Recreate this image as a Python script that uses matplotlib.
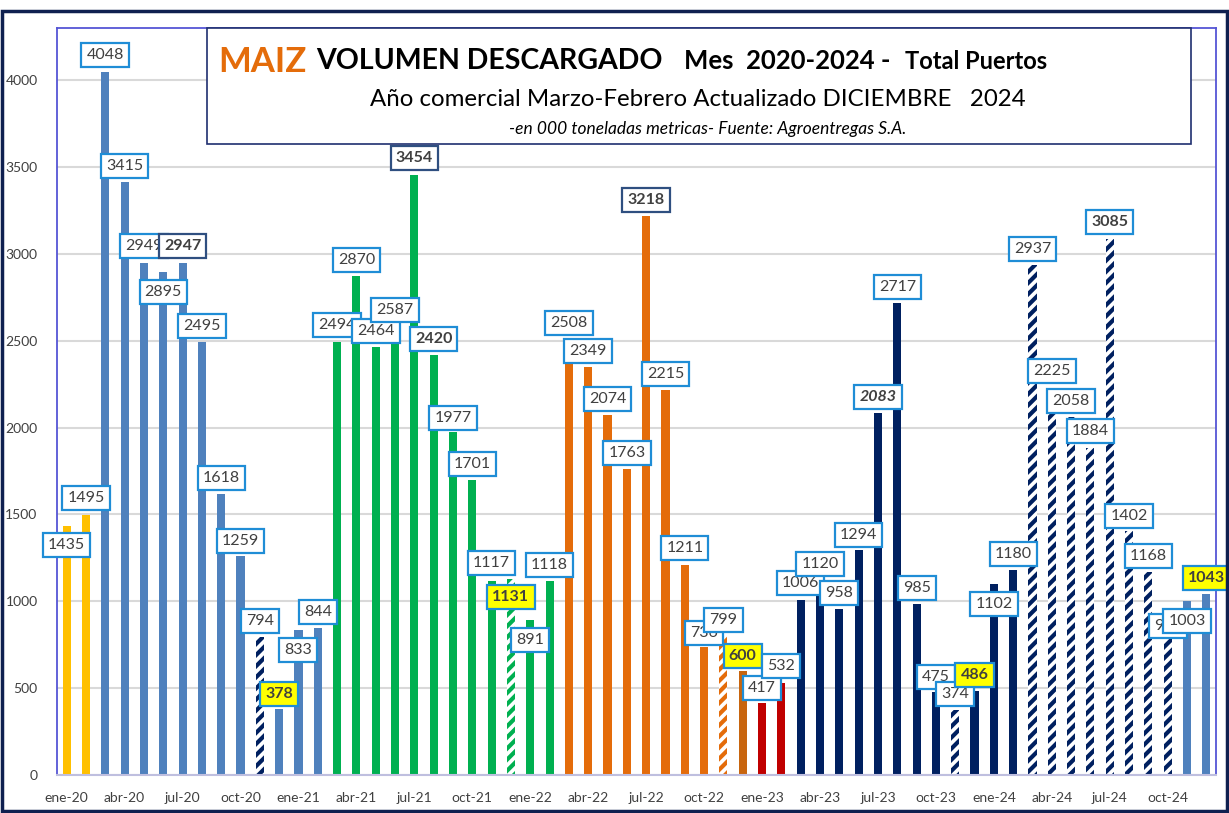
import matplotlib
matplotlib.use("Agg")
import matplotlib.pyplot as plt
from matplotlib.patches import Rectangle
import numpy as np

plt.rcParams['font.family'] = ['Lato', 'DejaVu Sans']
plt.rcParams['hatch.linewidth'] = 3.0

# ---------------- data ----------------
month_names = ["ene", "feb", "mar", "abr", "may", "jun", "jul", "ago", "sep", "oct", "nov", "dic"]
years = ["20", "21", "22", "23", "24"]
months = [f"{m}-{y}" for y in years for m in month_names]

values = [1435, 1495, 4048, 3415, 2949, 2895, 2947, 2495, 1618, 1259, 794, 378,
          833, 844, 2494, 2870, 2464, 2587, 3454, 2420, 1977, 1701, 1117, 1131,
          891, 1118, 2508, 2349, 2074, 1763, 3218, 2215, 1211, 736, 799, 600,
          417, 532, 1006, 1120, 958, 1294, 2083, 2717, 985, 475, 374, 486,
          1102, 1180, 2937, 2225, 2058, 1884, 3085, 1402, 1168, 790, 1003, 1043]

label_texts = [str(v) for v in values]
label_texts[57] = "935"

# ---------------- styles ----------------
YEL = "#FFC000"; BLU = "#4F81BD"; GRN = "#00B050"; ORG = "#E46C0A"
DOR = "#C8650E"; RED = "#C00000"; NAV = "#002060"
bar_colors = ([YEL] * 2 + [BLU] * 12 + [GRN] * 12 + [ORG] * 9 + [DOR] + [RED] * 2
              + [NAV] * 20 + [BLU] * 2)
hatched = {10, 23, 34, 46, 50, 51, 52, 53, 54, 55, 56, 57}
hatch_colors = {10: NAV, 23: GRN, 34: ORG}

# label y positions (data units)
label_y = [1324, 1594, 4144, 3505, 3045, 2780, 3045, 2584, 1709, 1347, 886, 466,
           719, 938, 2590, 2964, 2555, 2676, 3551, 2509, 2055, 1790, 1220, 1024,
           777, 1209, 2601, 2440, 2164, 1853, 3309, 2308, 1306, 817, 892, 685,
           501, 627, 1105, 1214, 1047, 1381, 2176, 2809, 1076, 564, 466, 576,
           984, 1272, 3027, 2325, 2153, 1980, 3183, 1491, 1260, 858, 886, 1134]
bold_idx = {6, 11, 18, 19, 23, 30, 35, 42, 47, 54, 59}
yellow_idx = {11, 23, 35, 47, 59}
dark_border_idx = {6, 18, 30}
italic_idx = {42}

W, H = 1229, 813
fig = plt.figure(figsize=(W / 100, H / 100), dpi=100)
fig.patch.set_facecolor("white")

def px(x, y):
    return x / W, 1 - y / H

ax = fig.add_axes([57 / W, 1 - 775 / H, (1216 - 57) / W, (775 - 28) / H])
x = np.arange(len(values))
for i, v in enumerate(values):
    if i in hatched:
        c = hatch_colors.get(i, NAV)
        ax.bar(i, v, width=0.42, facecolor="white", edgecolor=c, linewidth=0,
               hatch="///", zorder=2)
    else:
        ax.bar(i, v, width=0.42, color=bar_colors[i], linewidth=0, zorder=2)

ax.set_xlim(-0.5, len(values) - 0.5)
ax.set_ylim(0, 4300)
ax.set_yticks(np.arange(0, 4001, 500))
ax.set_yticklabels([str(t) for t in range(0, 4001, 500)], fontsize=10, color="#404040")
ax.set_xticks(x[::3])
ax.set_xticklabels(months[::3], fontsize=10, color="#404040")
ax.tick_params(axis="x", length=0, pad=12)
ax.tick_params(axis="y", length=0, pad=14)
ax.yaxis.grid(True, color="#D9D9D9", linewidth=1.5, zorder=0)
ax.set_axisbelow(True)
for s in ["left", "right", "top"]:
    ax.spines[s].set_color("#5555D5")
    ax.spines[s].set_linewidth(1.3)
ax.spines["bottom"].set_color("#BFBFDF")
ax.spines["bottom"].set_linewidth(1.5)

for i, txt in enumerate(label_texts):
    fc = "#FFFF00" if i in yellow_idx else "white"
    ec = "#2F4F80" if i in dark_border_idx else "#1F8DD6"
    ax.text(i, label_y[i], txt, ha="center", va="center", fontsize=11.5,
            color="#404040",
            fontweight="bold" if i in bold_idx else "normal",
            fontstyle="italic" if i in italic_idx else "normal",
            bbox=dict(boxstyle="square,pad=0.32", fc=fc, ec=ec, lw=1.6),
            zorder=5 + i)

# ---------------- title box ----------------
fig.patches.append(Rectangle(px(207, 144), (1191 - 207) / W, (144 - 28) / H,
                             transform=fig.transFigure, fill=True, fc="white",
                             ec="#1F2F6F", lw=1.2, zorder=10))
fig.text(*px(218, 72), "MAIZ", color="#E46C0A", fontsize=25, fontweight="bold",
         ha="left", va="baseline", zorder=11)
fig.text(*px(316, 69), "VOLUMEN DESCARGADO", color="black", fontsize=20.5,
         fontweight="bold", ha="left", va="baseline", zorder=11)
fig.text(*px(684, 69), "Mes  2020-2024 -", color="black", fontsize=18.5,
         fontweight="bold", ha="left", va="baseline", zorder=11)
fig.text(*px(905, 69), "Total Puertos", color="black", fontsize=17,
         fontweight="bold", ha="left", va="baseline", zorder=11)
fig.text(*px(698, 100), "Año comercial Marzo-Febrero Actualizado DICIEMBRE   2024",
         color="black", fontsize=17.3, ha="center", va="center", zorder=11)
fig.text(*px(708, 129), "-en 000 toneladas metricas- Fuente: Agroentregas S.A.",
         color="black", fontsize=12.5, fontstyle="italic", ha="center", va="center",
         zorder=11)

# outer frame
fig.patches.append(Rectangle(px(2, 811), (1227 - 2) / W, (811 - 11) / H,
                             transform=fig.transFigure, fill=False,
                             ec="#0F2050", lw=2.5, zorder=20))

fig.savefig("out.png", dpi=100)
